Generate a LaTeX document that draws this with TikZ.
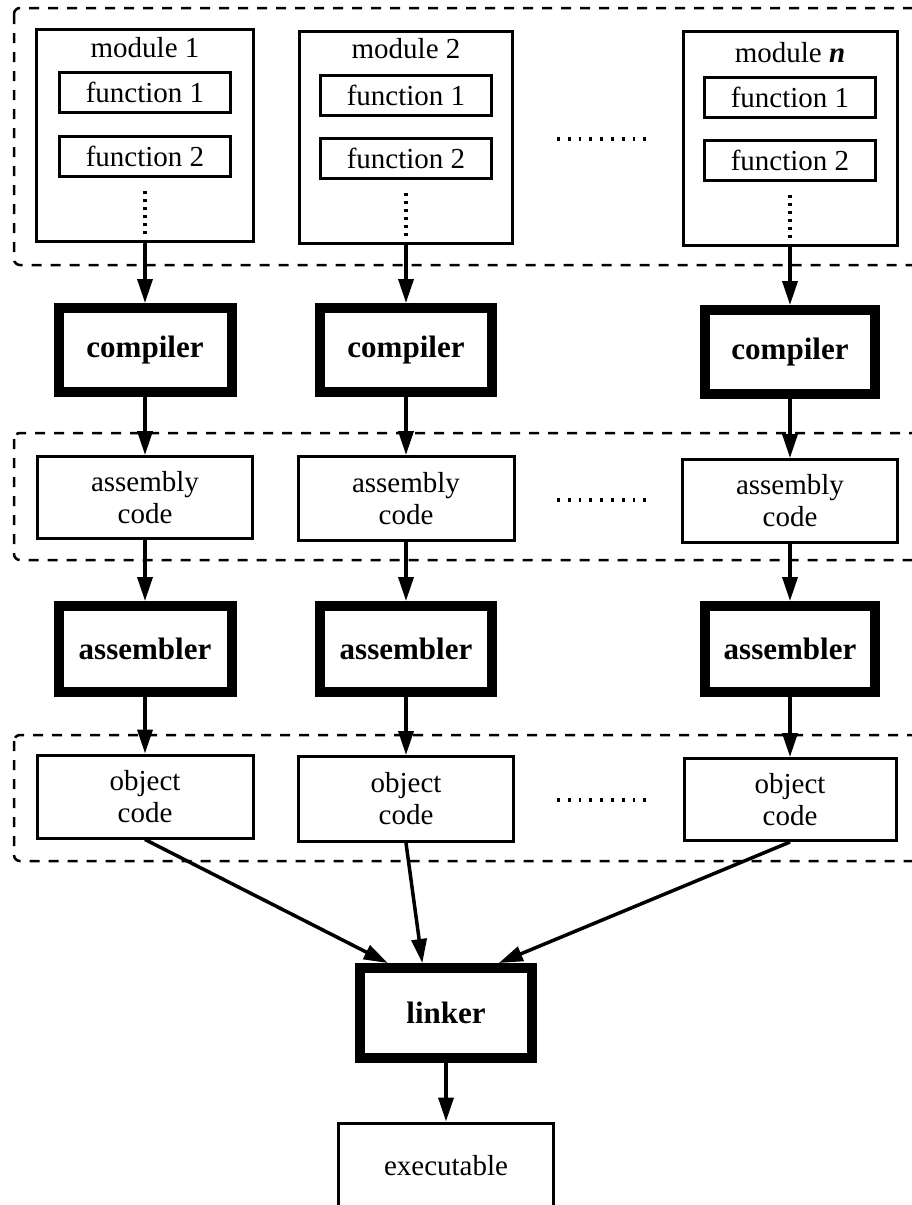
\documentclass[tikz,border=0pt]{standalone}
\usepackage{fontspec}
\setmainfont{Liberation Serif}
\usetikzlibrary{arrows.meta,calc}

\tikzset{
  every node/.style={font=\fontsize{29}{32}\selectfont},
  plainbox/.style={draw, line width=3pt, rectangle, inner sep=0pt, align=center},
  heavybox/.style={draw, line width=10pt, rectangle, inner sep=0pt, align=center,
                   font=\fontsize{31}{32}\selectfont\bfseries},
  groupframe/.style={draw, line width=2.5pt, dash pattern=on 10pt off 9pt, rounded corners=6pt},
  flow/.style={draw, line width=3.5pt, -{Triangle[length=24pt,width=15pt]}},
  hdots/.style={line width=3.2pt, dash pattern=on 2.8pt off 8pt},
  vdots/.style={line width=3.2pt, dash pattern=on 3pt off 5pt},
}

\begin{document}
\begin{tikzpicture}[x=1pt,y=-1pt]
\clip (0,0) rectangle (912,1205);
\fill[white] (0,0) rectangle (912,1205);

% dashed groupings of the three stages
\draw[groupframe] (14,8) rectangle (945,265);
\draw[groupframe] (14,433) rectangle (945,560);
\draw[groupframe] (14,735) rectangle (945,861);

% source modules
\node[plainbox, minimum width=217pt, minimum height=212pt] (m1) at (145,135.5) {};
\node[plainbox, minimum width=213pt, minimum height=212pt] (m2) at (406,137.5) {};
\node[plainbox, minimum width=214pt, minimum height=214pt] (m3) at (790,138.5) {};

\node (t1) at (145,48) {module 1};
\node (t2) at (406,49) {module 2};
\node (t3) at (790,53) {module \textbf{\textit{n}}};

\node[plainbox, minimum width=171pt, minimum height=40pt] (f11) at (145,92.5) {function 1};
\node[plainbox, minimum width=171pt, minimum height=40pt] (f12) at (145,156.5) {function 2};
\node[plainbox, minimum width=171pt, minimum height=40pt] (f21) at (406,95) {function 1};
\node[plainbox, minimum width=171pt, minimum height=40pt] (f22) at (406,158.5) {function 2};
\node[plainbox, minimum width=171pt, minimum height=40pt] (f31) at (790,97) {function 1};
\node[plainbox, minimum width=171pt, minimum height=40pt] (f32) at (790,160) {function 2};

\draw[vdots] (145,191) -- (145,236);
\draw[vdots] (406,193) -- (406,238);
\draw[vdots] (790,195) -- (790,240);

% compilers
\node[heavybox, minimum width=173pt, minimum height=84pt] (c1) at (145,350) {compiler};
\node[heavybox, minimum width=172pt, minimum height=84pt] (c2) at (406,350) {compiler};
\node[heavybox, minimum width=170pt, minimum height=84pt] (c3) at (790,352) {compiler};

% assembly code
\node[plainbox, minimum width=215pt, minimum height=82pt] (a1) at (145,497.5) {assembly\\code};
\node[plainbox, minimum width=216pt, minimum height=84pt] (a2) at (406,498.5) {assembly\\code};
\node[plainbox, minimum width=215pt, minimum height=83pt] (a3) at (790,501) {assembly\\code};

% assemblers
\node[heavybox, minimum width=173pt, minimum height=86pt] (s1) at (145,649) {assembler};
\node[heavybox, minimum width=172pt, minimum height=86pt] (s2) at (406,649) {assembler};
\node[heavybox, minimum width=170pt, minimum height=86pt] (s3) at (790,649) {assembler};

% object code
\node[plainbox, minimum width=216pt, minimum height=83pt] (o1) at (145,796.5) {object\\code};
\node[plainbox, minimum width=215pt, minimum height=85pt] (o2) at (406,799) {object\\code};
\node[plainbox, minimum width=212pt, minimum height=82pt] (o3) at (790,799.5) {object\\code};

% linker and result
\node[heavybox, minimum width=172pt, minimum height=90pt] (lk) at (446,1013) {linker};
\node[plainbox, minimum width=215pt, minimum height=120pt, anchor=north] (ex) at (446,1121.5) {};
\node (ext) at (446,1166) {executable};

% elision marks between the columns
\draw[hdots] (557,139) -- (648,139);
\draw[hdots] (557,500) -- (648,500);
\draw[hdots] (557,800) -- (648,800);

% flow of the build
\draw[flow] (m1.south) -- (c1.north);
\draw[flow] (m2.south) -- (c2.north);
\draw[flow] (m3.south) -- (c3.north);
\draw[flow] (c1.south) -- (a1.north);
\draw[flow] (c2.south) -- (a2.north);
\draw[flow] (c3.south) -- (a3.north);
\draw[flow] (a1.south) -- (s1.north);
\draw[flow] (a2.south) -- (s2.north);
\draw[flow] (a3.south) -- (s3.north);
\draw[flow] (s1.south) -- (o1.north);
\draw[flow] (s2.south) -- (o2.north);
\draw[flow] (s3.south) -- (o3.north);
\draw[flow] (o1.south) -- ($(lk.north west)!0.18!(lk.north east)$);
\draw[flow] (o2.south) -- ($(lk.north west)!0.37!(lk.north east)$);
\draw[flow] (o3.south) -- ($(lk.north west)!0.79!(lk.north east)$);
\draw[flow] (lk.south) -- (ex.north);
\end{tikzpicture}
\end{document}
